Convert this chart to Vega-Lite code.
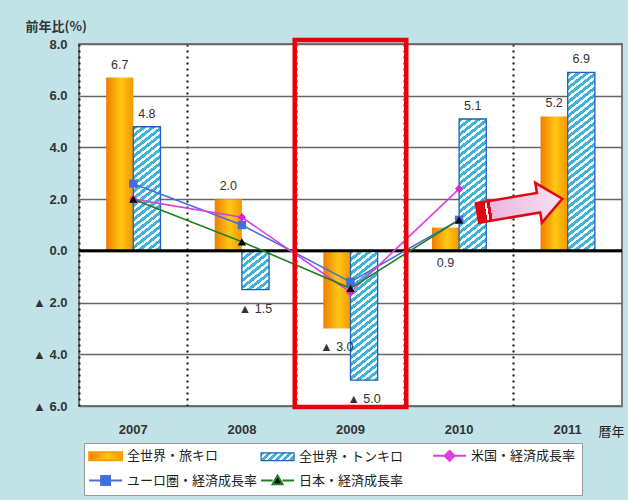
{
  "$schema": "https://vega.github.io/schema/vega-lite/v6.json",
  "width": 543,
  "height": 362,
  "autosize": {"type": "none"},
  "padding": {"left": 79, "top": 44, "right": 6, "bottom": 94},
  "background": "#c1e3e7",
  "params": [
    {
      "name": "hatch",
      "value": [
        {"offset": 0, "color": "#3fb4d8"}, {"offset": 0.0183, "color": "#3fb4d8"}, {"offset": 0.0183, "color": "#ffffff"}, {"offset": 0.0333, "color": "#ffffff"},
        {"offset": 0.0333, "color": "#3fb4d8"}, {"offset": 0.0517, "color": "#3fb4d8"}, {"offset": 0.0517, "color": "#ffffff"}, {"offset": 0.0667, "color": "#ffffff"},
        {"offset": 0.0667, "color": "#3fb4d8"}, {"offset": 0.085, "color": "#3fb4d8"}, {"offset": 0.085, "color": "#ffffff"}, {"offset": 0.1, "color": "#ffffff"},
        {"offset": 0.1, "color": "#3fb4d8"}, {"offset": 0.1183, "color": "#3fb4d8"}, {"offset": 0.1183, "color": "#ffffff"}, {"offset": 0.1333, "color": "#ffffff"},
        {"offset": 0.1333, "color": "#3fb4d8"}, {"offset": 0.1517, "color": "#3fb4d8"}, {"offset": 0.1517, "color": "#ffffff"}, {"offset": 0.1667, "color": "#ffffff"},
        {"offset": 0.1667, "color": "#3fb4d8"}, {"offset": 0.185, "color": "#3fb4d8"}, {"offset": 0.185, "color": "#ffffff"}, {"offset": 0.2, "color": "#ffffff"},
        {"offset": 0.2, "color": "#3fb4d8"}, {"offset": 0.2183, "color": "#3fb4d8"}, {"offset": 0.2183, "color": "#ffffff"}, {"offset": 0.2333, "color": "#ffffff"},
        {"offset": 0.2333, "color": "#3fb4d8"}, {"offset": 0.2517, "color": "#3fb4d8"}, {"offset": 0.2517, "color": "#ffffff"}, {"offset": 0.2667, "color": "#ffffff"},
        {"offset": 0.2667, "color": "#3fb4d8"}, {"offset": 0.285, "color": "#3fb4d8"}, {"offset": 0.285, "color": "#ffffff"}, {"offset": 0.3, "color": "#ffffff"},
        {"offset": 0.3, "color": "#3fb4d8"}, {"offset": 0.3183, "color": "#3fb4d8"}, {"offset": 0.3183, "color": "#ffffff"}, {"offset": 0.3333, "color": "#ffffff"},
        {"offset": 0.3333, "color": "#3fb4d8"}, {"offset": 0.3517, "color": "#3fb4d8"}, {"offset": 0.3517, "color": "#ffffff"}, {"offset": 0.3667, "color": "#ffffff"},
        {"offset": 0.3667, "color": "#3fb4d8"}, {"offset": 0.385, "color": "#3fb4d8"}, {"offset": 0.385, "color": "#ffffff"}, {"offset": 0.4, "color": "#ffffff"},
        {"offset": 0.4, "color": "#3fb4d8"}, {"offset": 0.4183, "color": "#3fb4d8"}, {"offset": 0.4183, "color": "#ffffff"}, {"offset": 0.4333, "color": "#ffffff"},
        {"offset": 0.4333, "color": "#3fb4d8"}, {"offset": 0.4517, "color": "#3fb4d8"}, {"offset": 0.4517, "color": "#ffffff"}, {"offset": 0.4667, "color": "#ffffff"},
        {"offset": 0.4667, "color": "#3fb4d8"}, {"offset": 0.485, "color": "#3fb4d8"}, {"offset": 0.485, "color": "#ffffff"}, {"offset": 0.5, "color": "#ffffff"},
        {"offset": 0.5, "color": "#3fb4d8"}, {"offset": 0.5183, "color": "#3fb4d8"}, {"offset": 0.5183, "color": "#ffffff"}, {"offset": 0.5333, "color": "#ffffff"},
        {"offset": 0.5333, "color": "#3fb4d8"}, {"offset": 0.5517, "color": "#3fb4d8"}, {"offset": 0.5517, "color": "#ffffff"}, {"offset": 0.5667, "color": "#ffffff"},
        {"offset": 0.5667, "color": "#3fb4d8"}, {"offset": 0.585, "color": "#3fb4d8"}, {"offset": 0.585, "color": "#ffffff"}, {"offset": 0.6, "color": "#ffffff"},
        {"offset": 0.6, "color": "#3fb4d8"}, {"offset": 0.6183, "color": "#3fb4d8"}, {"offset": 0.6183, "color": "#ffffff"}, {"offset": 0.6333, "color": "#ffffff"},
        {"offset": 0.6333, "color": "#3fb4d8"}, {"offset": 0.6517, "color": "#3fb4d8"}, {"offset": 0.6517, "color": "#ffffff"}, {"offset": 0.6667, "color": "#ffffff"},
        {"offset": 0.6667, "color": "#3fb4d8"}, {"offset": 0.685, "color": "#3fb4d8"}, {"offset": 0.685, "color": "#ffffff"}, {"offset": 0.7, "color": "#ffffff"},
        {"offset": 0.7, "color": "#3fb4d8"}, {"offset": 0.7183, "color": "#3fb4d8"}, {"offset": 0.7183, "color": "#ffffff"}, {"offset": 0.7333, "color": "#ffffff"},
        {"offset": 0.7333, "color": "#3fb4d8"}, {"offset": 0.7517, "color": "#3fb4d8"}, {"offset": 0.7517, "color": "#ffffff"}, {"offset": 0.7667, "color": "#ffffff"},
        {"offset": 0.7667, "color": "#3fb4d8"}, {"offset": 0.785, "color": "#3fb4d8"}, {"offset": 0.785, "color": "#ffffff"}, {"offset": 0.8, "color": "#ffffff"},
        {"offset": 0.8, "color": "#3fb4d8"}, {"offset": 0.8183, "color": "#3fb4d8"}, {"offset": 0.8183, "color": "#ffffff"}, {"offset": 0.8333, "color": "#ffffff"},
        {"offset": 0.8333, "color": "#3fb4d8"}, {"offset": 0.8517, "color": "#3fb4d8"}, {"offset": 0.8517, "color": "#ffffff"}, {"offset": 0.8667, "color": "#ffffff"},
        {"offset": 0.8667, "color": "#3fb4d8"}, {"offset": 0.885, "color": "#3fb4d8"}, {"offset": 0.885, "color": "#ffffff"}, {"offset": 0.9, "color": "#ffffff"},
        {"offset": 0.9, "color": "#3fb4d8"}, {"offset": 0.9183, "color": "#3fb4d8"}, {"offset": 0.9183, "color": "#ffffff"}, {"offset": 0.9333, "color": "#ffffff"},
        {"offset": 0.9333, "color": "#3fb4d8"}, {"offset": 0.9517, "color": "#3fb4d8"}, {"offset": 0.9517, "color": "#ffffff"}, {"offset": 0.9667, "color": "#ffffff"},
        {"offset": 0.9667, "color": "#3fb4d8"}, {"offset": 0.985, "color": "#3fb4d8"}, {"offset": 0.985, "color": "#ffffff"}, {"offset": 1, "color": "#ffffff"}
      ]
    }
  ],
  "datasets": {
    "bars": [
      {"year": "2007", "series": "全世界・旅キロ", "value": 6.7},
      {"year": "2007", "series": "全世界・トンキロ", "value": 4.8},
      {"year": "2008", "series": "全世界・旅キロ", "value": 2.0},
      {"year": "2008", "series": "全世界・トンキロ", "value": -1.5},
      {"year": "2009", "series": "全世界・旅キロ", "value": -3.0},
      {"year": "2009", "series": "全世界・トンキロ", "value": -5.0},
      {"year": "2010", "series": "全世界・旅キロ", "value": 0.9},
      {"year": "2010", "series": "全世界・トンキロ", "value": 5.1},
      {"year": "2011", "series": "全世界・旅キロ", "value": 5.2},
      {"year": "2011", "series": "全世界・トンキロ", "value": 6.9}
    ],
    "growth": [
      {"year": "2007", "series": "ユーロ圏・経済成長率", "value": 2.6},
      {"year": "2008", "series": "ユーロ圏・経済成長率", "value": 1.0},
      {"year": "2009", "series": "ユーロ圏・経済成長率", "value": -1.2},
      {"year": "2010", "series": "ユーロ圏・経済成長率", "value": 1.2},
      {"year": "2007", "series": "米国・経済成長率", "value": 2.0},
      {"year": "2008", "series": "米国・経済成長率", "value": 1.3},
      {"year": "2009", "series": "米国・経済成長率", "value": -1.6},
      {"year": "2010", "series": "米国・経済成長率", "value": 2.4},
      {"year": "2007", "series": "日本・経済成長率", "value": 2.0},
      {"year": "2008", "series": "日本・経済成長率", "value": 0.35},
      {"year": "2009", "series": "日本・経済成長率", "value": -1.45},
      {"year": "2010", "series": "日本・経済成長率", "value": 1.2}
    ]
  },
  "layer": [
    {
      "data": {"name": "bars"},
      "transform": [{"filter": "datum.series === '全世界・旅キロ'"}],
      "mark": {
        "type": "bar",
        "fill": {
          "gradient": "linear", "x1": 0, "y1": 0, "x2": 1, "y2": 0,
          "stops": [
            {"offset": 0, "color": "#ee7d00"},
            {"offset": 0.55, "color": "#ffc814"},
            {"offset": 1, "color": "#f39800"}
          ]
        }
      },
      "encoding": {
        "x": {
          "field": "year", "type": "nominal",
          "scale": {"domain": ["2007", "2008", "2009", "2010", "2011"], "paddingInner": 0, "paddingOuter": 0},
          "axis": {
            "title": "暦年", "titleAngle": 0, "titleAlign": "left", "titleBaseline": "middle",
            "titleX": 519, "titleY": 25, "titleFont": "Noto Sans CJK JP", "titleFontSize": 13,
            "titleFontWeight": "normal", "titleColor": "#222",
            "labelAngle": 0, "labelPadding": 17, "labelFont": "Liberation Sans", "labelFontSize": 13,
            "labelFontWeight": "bold", "labelColor": "#333",
            "domain": false, "ticks": false,
            "grid": true, "bandPosition": 0, "gridDash": [2, 4], "gridColor": "#111", "gridWidth": 2
          }
        },
        "xOffset": {
          "field": "series", "type": "nominal",
          "scale": {"domain": ["全世界・旅キロ", "全世界・トンキロ"], "paddingOuter": 1.526, "paddingInner": 0}
        },
        "y": {
          "field": "value", "type": "quantitative",
          "scale": {"domain": [-6, 8], "nice": false, "zero": false},
          "axis": {
            "title": "前年比(%)", "titleAngle": 0, "titleAlign": "left", "titleBaseline": "middle",
            "titleX": -54, "titleY": -18, "titleFont": "Noto Sans CJK JP", "titleFontSize": 13,
            "titleFontWeight": "bold", "titleColor": "#333",
            "values": [-6, -4, -2, 0, 2, 4, 6, 8], "format": ".1f",
            "labelPadding": 12, "labelFont": "Liberation Sans", "labelFontSize": 13,
            "labelFontWeight": "bold", "labelColor": "#333",
            "domain": false, "ticks": false,
            "grid": true, "gridColor": "#666", "gridWidth": 1.3
          }
        }
      }
    },
    {
      "data": {"name": "bars"},
      "transform": [{"filter": "datum.series === '全世界・トンキロ'"}],
      "mark": {"type": "bar", "stroke": "#1f5fbf", "strokeWidth": 1.3},
      "encoding": {
        "x": {"field": "year", "type": "nominal"},
        "xOffset": {"field": "series", "type": "nominal"},
        "y": {"field": "value", "type": "quantitative"},
        "fill": {
          "condition": [
            {"test": "datum.year === '2007'", "value": {"expr": "{gradient: 'linear', x1: 0, y1: 0, x2: 0.2846, y2: 1.6429, stops: hatch}"}},
            {"test": "datum.year === '2008'", "value": {"expr": "{gradient: 'linear', x1: 0, y1: 0, x2: 2.2946, y2: 4.1409, stops: hatch}"}},
            {"test": "datum.year === '2009'", "value": {"expr": "{gradient: 'linear', x1: 0, y1: 0, x2: 0.2628, y2: 1.5804, stops: hatch}"}},
            {"test": "datum.year === '2010'", "value": {"expr": "{gradient: 'linear', x1: 0, y1: 0, x2: 0.2528, y2: 1.5509, stops: hatch}"}}
          ],
          "value": {"expr": "{gradient: 'linear', x1: 0, y1: 0, x2: 0.1398, y2: 1.1603, stops: hatch}"}
        }
      }
    },
    {
      "data": {"values": [{}]},
      "mark": {"type": "rule", "color": "#000", "strokeWidth": 3},
      "encoding": {"y": {"datum": 0}}
    },
    {
      "data": {"name": "growth"},
      "mark": {"type": "line"},
      "encoding": {
        "x": {"field": "year", "type": "nominal"},
        "y": {"field": "value", "type": "quantitative"},
        "stroke": {
          "field": "series", "type": "nominal",
          "scale": {
            "domain": ["全世界・旅キロ", "全世界・トンキロ", "米国・経済成長率", "ユーロ圏・経済成長率", "日本・経済成長率"],
            "range": ["#f5a000", "#1f5fbf", "#e03ce0", "#4a6fdc", "#208020"]
          },
          "legend": {
            "title": null, "orient": "none", "legendX": 5, "legendY": 399,
            "direction": "horizontal",
            "columns": 3, "gridAlign": "all", "columnPadding": -1, "rowPadding": 6,
            "padding": 6, "fillColor": "#ffffff", "strokeColor": "#999999",
            "symbolSize": 1089, "labelFont": "Noto Sans CJK JP", "labelFontSize": 13,
            "labelColor": "#222", "labelOffset": 24, "labelLimit": 300,
            "labelExpr": "datum.label === '米国・経済成長率' ? datum.label + '\u3000\u3000' : datum.label",
            "encode": {
              "symbols": {
                "update": {
                  "shape": {"signal": "datum.value === '全世界・旅キロ' || datum.value === '全世界・トンキロ' ? 'M-0.45,-0.24H1.55V0.24H-0.45Z' : datum.value === '米国・経済成長率' ? 'M-0.45,0H0.25M0.85,0H1.55M0.55,-0.3L0.85,0L0.55,0.3L0.25,0Z' : datum.value === 'ユーロ圏・経済成長率' ? 'M-0.45,0H0.28M0.82,0H1.55M0.28,-0.27H0.82V0.27H0.28Z' : 'M-0.45,0H0.25M0.85,0H1.55M0.55,-0.3L0.85,0.22L0.25,0.22Z'"},
                  "fill": {"signal": "datum.value === '全世界・旅キロ' ? {gradient: 'linear', x1: 0, y1: 0, x2: 1, y2: 0, stops: [{offset: 0, color: '#ee7d00'}, {offset: 0.55, color: '#ffc814'}, {offset: 1, color: '#f39800'}]} : datum.value === '全世界・トンキロ' ? {gradient: 'linear', x1: 0, y1: 0, x2: 6.01, y2: 1.457, stops: hatch} : datum.value === '米国・経済成長率' ? '#e03ce0' : datum.value === 'ユーロ圏・経済成長率' ? '#3f6ee0' : '#000000'"},
                  "stroke": {"signal": "datum.value === '全世界・旅キロ' ? 'transparent' : datum.value === '全世界・トンキロ' ? '#1f5fbf' : datum.value === '米国・経済成長率' ? '#e03ce0' : datum.value === 'ユーロ圏・経済成長率' ? '#4a6fdc' : '#208020'"},
                  "strokeWidth": {"signal": "datum.value === '全世界・トンキロ' ? 1.2 : 2"},
                  "strokeDash": {"value": []},
                  "size": {"value": 1089},
                  "opacity": {"value": 1}
                }
              }
            }
          }
        },
        "strokeWidth": {
          "field": "series", "type": "nominal",
          "scale": {"domain": ["米国・経済成長率", "ユーロ圏・経済成長率", "日本・経済成長率"], "range": [1.6, 1.6, 2.6]},
          "legend": null
        }
      }
    },
    {
      "data": {"name": "growth"},
      "mark": {"type": "point", "filled": true, "size": 70, "opacity": 1},
      "encoding": {
        "x": {"field": "year", "type": "nominal"},
        "y": {"field": "value", "type": "quantitative"},
        "shape": {
          "field": "series", "type": "nominal",
          "scale": {"domain": ["ユーロ圏・経済成長率", "米国・経済成長率", "日本・経済成長率"], "range": ["square", "diamond", "triangle-up"]},
          "legend": null
        },
        "fill": {
          "field": "series", "type": "nominal",
          "scale": {"domain": ["ユーロ圏・経済成長率", "米国・経済成長率", "日本・経済成長率"], "range": ["#3f6ee0", "#e020e0", "#000000"]},
          "legend": null
        }
      }
    },
    {
      "data": {"name": "bars"},
      "transform": [{"filter": "datum.value >= 1"}],
      "mark": {"type": "text", "baseline": "alphabetic", "dy": -9, "font": "Liberation Sans", "fontSize": 12.5, "color": "#333"},
      "encoding": {
        "x": {"field": "year", "type": "nominal"},
        "xOffset": {"field": "series", "type": "nominal"},
        "y": {"field": "value", "type": "quantitative"},
        "text": {"field": "value", "type": "quantitative", "format": ".1f"}
      }
    },
    {
      "data": {"name": "bars"},
      "transform": [{"filter": "datum.value < 0"}],
      "mark": {"type": "text", "baseline": "top", "dy": 13, "font": "Liberation Sans", "fontSize": 12.5, "color": "#333"},
      "encoding": {
        "x": {"field": "year", "type": "nominal"},
        "xOffset": {"field": "series", "type": "nominal"},
        "y": {"field": "value", "type": "quantitative"},
        "text": {"field": "value", "type": "quantitative", "format": ".1f"}
      }
    },
    {
      "data": {"name": "bars"},
      "transform": [{"filter": "datum.value > 0 && datum.value < 1"}],
      "mark": {"type": "text", "baseline": "top", "dy": 6, "font": "Liberation Sans", "fontSize": 12.5, "color": "#333"},
      "encoding": {
        "x": {"field": "year", "type": "nominal"},
        "xOffset": {"field": "series", "type": "nominal"},
        "y": {"datum": 0},
        "text": {"field": "value", "type": "quantitative", "format": ".1f"}
      }
    },
    {
      "data": {"values": [{}]},
      "mark": {"type": "bar", "fill": "transparent", "stroke": "#e8000b", "strokeWidth": 4.5, "width": {"band": 1.027}},
      "encoding": {
        "x": {"datum": "2009"},
        "y": {"datum": 8.15},
        "y2": {"datum": -6.04}
      }
    },
    {
      "data": {"values": [{}]},
      "mark": {
        "type": "point", "filled": true, "size": 7396, "angle": -9.5, "opacity": 1,
        "shape": "M-1,-0.23L0.44,-0.23L0.44,-0.47L1,0L0.44,0.47L0.44,0.23L-1,0.23Z",
        "fill": {
          "gradient": "linear", "x1": 0, "y1": 0, "x2": 1, "y2": 0,
          "stops": [
            {"offset": 0, "color": "#e30613"}, {"offset": 0.1, "color": "#e30613"},
            {"offset": 0.1, "color": "#ffffff"}, {"offset": 0.125, "color": "#ffffff"},
            {"offset": 0.125, "color": "#e30613"}, {"offset": 0.16, "color": "#e30613"},
            {"offset": 0.16, "color": "#eab6df"}, {"offset": 1, "color": "#f8e2f2"}
          ]
        },
        "stroke": "#e30613", "strokeWidth": 2.5
      },
      "encoding": {
        "x": {"datum": "2011", "bandPosition": 0.06},
        "y": {"datum": 1.74}
      }
    }
  ],
  "config": {
    "font": "Noto Sans CJK JP",
    "view": {"fill": "#ffffff", "stroke": "#7a7a7a", "strokeWidth": 2},
    "locale": {
      "number": {"decimal": ".", "thousands": ",", "grouping": [3], "currency": ["", ""], "minus": "▲ "}
    }
  }
}
